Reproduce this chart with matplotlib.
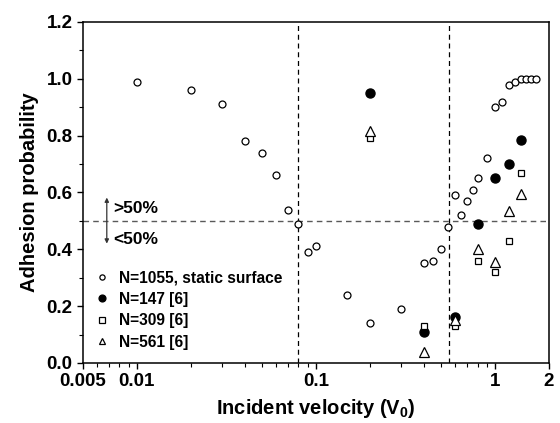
"""Adhesion probability versus incident velocity, static surface vs literature."""

import matplotlib

matplotlib.use("Agg")
import matplotlib.pyplot as plt
from matplotlib.ticker import FixedLocator, LogLocator, MultipleLocator, NullFormatter

plt.rcParams["font.family"] = ["Liberation Sans", "DejaVu Sans"]
plt.rcParams["font.weight"] = "bold"
plt.rcParams["mathtext.fontset"] = "custom"
plt.rcParams["mathtext.rm"] = "Liberation Sans:bold"
plt.rcParams["mathtext.bf"] = "Liberation Sans:bold"

# static surface, N=1055
static_v = [0.01, 0.02, 0.03, 0.04, 0.05, 0.06, 0.07, 0.08, 0.09, 0.1,
            0.15, 0.2, 0.3, 0.4, 0.45, 0.5, 0.55, 0.6, 0.65, 0.7, 0.75,
            0.8, 0.9, 1.0, 1.1, 1.2, 1.3, 1.4, 1.5, 1.6, 1.7]
static_p = [0.99, 0.96, 0.91, 0.78, 0.74, 0.66, 0.54, 0.49, 0.39, 0.41,
            0.24, 0.14, 0.19, 0.35, 0.36, 0.40, 0.48, 0.59, 0.52, 0.57, 0.61,
            0.65, 0.72, 0.90, 0.92, 0.98, 0.99, 1.0, 1.0, 1.0, 1.0]

# reference [6] runs
ref_v = [0.2, 0.4, 0.6, 0.8, 1.0, 1.2, 1.4]
n147_p = [0.95, 0.11, 0.16, 0.49, 0.65, 0.70, 0.785]
n309_p = [0.79, 0.13, 0.13, 0.36, 0.32, 0.43, 0.67]
n561_p = [0.815, 0.04, 0.15, 0.40, 0.355, 0.535, 0.595]

v_lines = [0.08, 0.555]
x_ticks = [0.005, 0.01, 0.1, 1, 2]
x_tick_labels = ["0.005", "0.01", "0.1", "1", "2"]

fig = plt.figure(figsize=(5.6, 4.23), dpi=100)
ax = fig.add_axes([0.148, 0.142, 0.832, 0.806])

ax.plot(static_v, static_p, "o", ms=5, mfc="white", mec="black", mew=0.9,
        label="N=1055, static surface")
ax.plot(ref_v, n147_p, "o", ms=6.5, mfc="black", mec="black",
        label="N=147 [6]")
ax.plot(ref_v, n309_p, "s", ms=5, mfc="white", mec="black", mew=0.9,
        label="N=309 [6]")
ax.plot(ref_v, n561_p, "^", ms=6.5, mfc="white", mec="black", mew=0.9,
        label="N=561 [6]")

for v in v_lines:
    ax.axvline(v, color="black", lw=0.9, ls=(0, (4, 3)), zorder=0)
ax.axhline(0.5, color="0.35", lw=1.0, ls=(0, (4, 3)), zorder=0)

ax.annotate("", xy=(0.0068, 0.582), xytext=(0.0068, 0.42),
            arrowprops=dict(arrowstyle="<|-|>", lw=0.9, color="0.2",
                            mutation_scale=6, shrinkA=0, shrinkB=0))
ax.text(0.0074, 0.545, ">50%", fontsize=12.5, va="center", ha="left")
ax.text(0.0074, 0.435, "<50%", fontsize=12.5, va="center", ha="left")

ax.set_xscale("log")
ax.set_xlim(0.005, 2)
ax.set_ylim(0, 1.2)
ax.xaxis.set_major_locator(FixedLocator(x_ticks))
ax.set_xticklabels(x_tick_labels)
ax.xaxis.set_minor_locator(LogLocator(base=10, subs=range(2, 10)))
ax.xaxis.set_minor_formatter(NullFormatter())
ax.yaxis.set_major_locator(MultipleLocator(0.2))
ax.yaxis.set_minor_locator(MultipleLocator(0.1))
ax.yaxis.set_major_formatter(lambda y, _: f"{y:.1f}")

ax.tick_params(which="major", direction="out", length=4.5, width=1.0,
               labelsize=13.5, pad=3)
ax.tick_params(which="minor", direction="out", length=3, width=0.8)
for spine in ax.spines.values():
    spine.set_linewidth(1.1)

ax.set_xlabel(r"Incident velocity (V$_{0}$)", fontsize=14.5, fontweight="bold",
              labelpad=5)
ax.set_ylabel("Adhesion probability", fontsize=14.5, fontweight="bold",
              labelpad=5)

ax.legend(loc="lower left", bbox_to_anchor=(0.0, 0.0), frameon=False,
          fontsize=11.2, handlelength=0.7, handletextpad=0.75,
          labelspacing=0.42, borderaxespad=0.45, markerscale=0.75)

fig.savefig("out.png", dpi=100)
